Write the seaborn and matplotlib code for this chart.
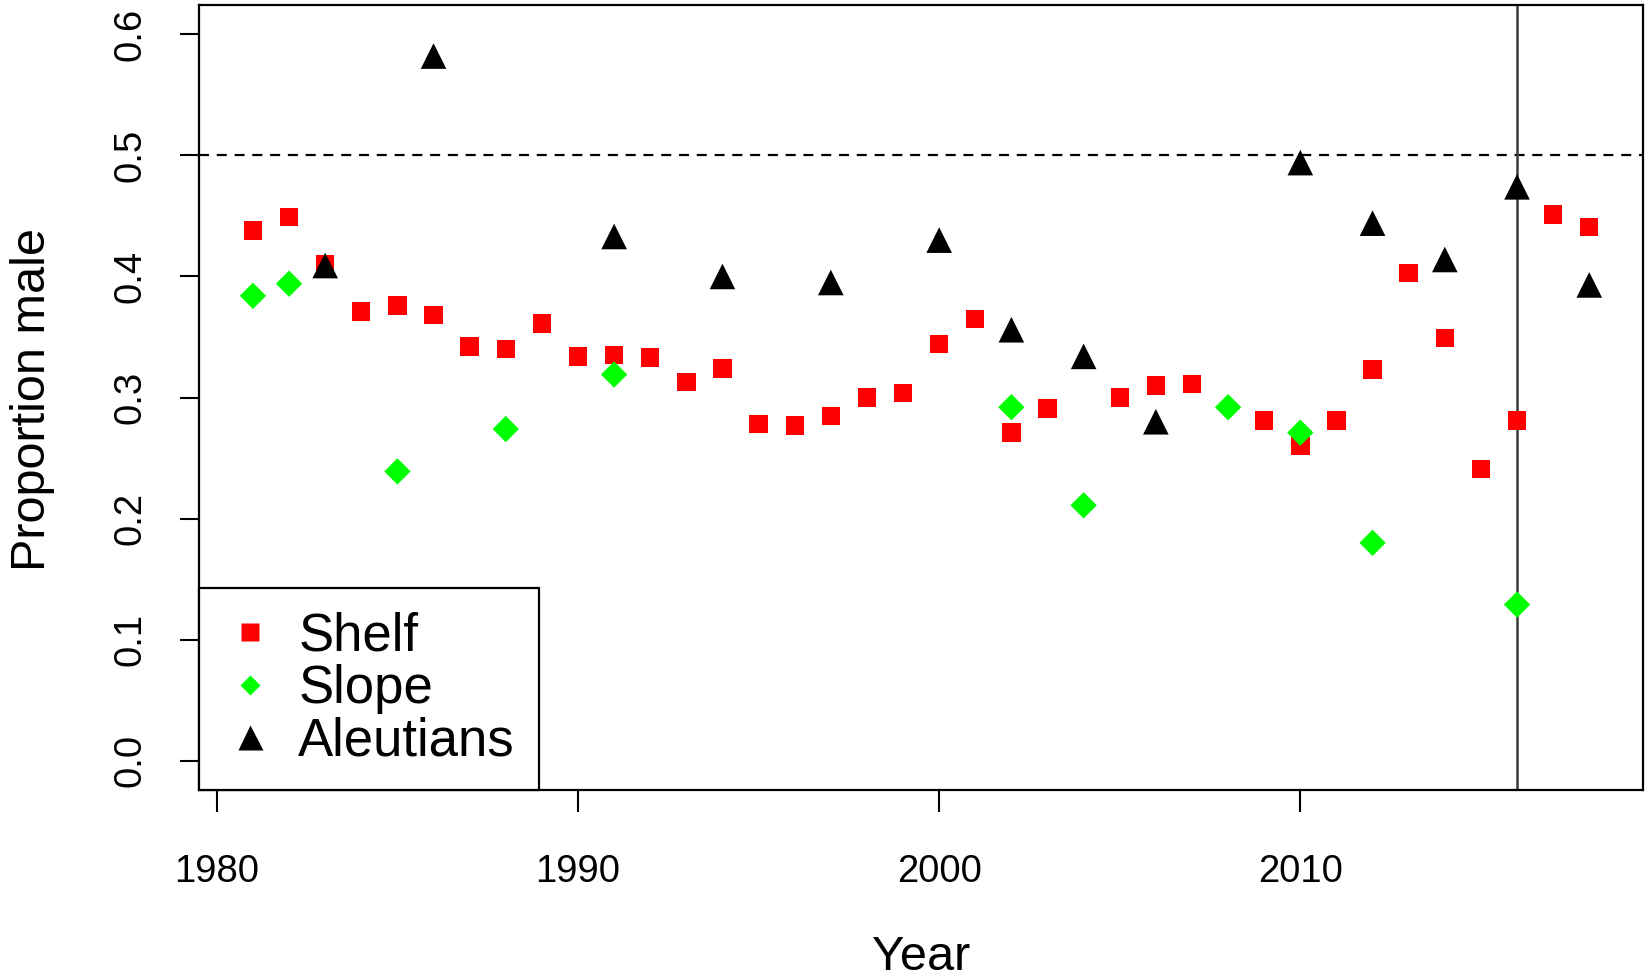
import matplotlib
matplotlib.use("Agg")
import matplotlib.pyplot as plt
from matplotlib.lines import Line2D
import seaborn as sns
import pandas as pd

# Proportion of males by survey area and year
shelf_years = [1981, 1982, 1983, 1984, 1985, 1986, 1987, 1988, 1989, 1990, 1991,
               1992, 1993, 1994, 1995, 1996, 1997, 1998, 1999, 2000, 2001, 2002,
               2003, 2005, 2006, 2007, 2009, 2010, 2011, 2012, 2013, 2014, 2015,
               2016, 2017, 2018]
shelf_values = [0.438, 0.449, 0.410, 0.371, 0.376, 0.368, 0.342, 0.340, 0.361, 0.334,
                0.335, 0.333, 0.313, 0.324, 0.278, 0.277, 0.285, 0.300, 0.304, 0.344,
                0.365, 0.271, 0.291, 0.300, 0.310, 0.311, 0.281, 0.260, 0.281, 0.323,
                0.403, 0.349, 0.241, 0.281, 0.451, 0.441]

slope_years = [1981, 1982, 1985, 1988, 1991, 2002, 2004, 2008, 2010, 2012, 2016]
slope_values = [0.384, 0.394, 0.239, 0.274, 0.319, 0.292, 0.211, 0.292, 0.271, 0.180, 0.129]

aleut_years = [1983, 1986, 1991, 1994, 1997, 2000, 2002, 2004, 2006, 2010, 2012,
               2014, 2016, 2018]
aleut_values = [0.409, 0.582, 0.433, 0.400, 0.395, 0.430, 0.356, 0.334, 0.280, 0.494,
                0.444, 0.414, 0.474, 0.393]

region_names = ["Shelf", "Slope", "Aleutians"]
region_colors = ["#ff0000", "#00ff00", "#000000"]

x_ticks = [1980, 1990, 2000, 2010]
y_ticks = [0.0, 0.1, 0.2, 0.3, 0.4, 0.5, 0.6]
ref_proportion = 0.5
ref_year = 2016

sns.set_theme(style="white")
plt.rcParams["font.family"] = ["Liberation Sans", "DejaVu Sans"]
plt.rcParams["text.color"] = "black"
plt.rcParams["axes.labelcolor"] = "black"

fig = plt.figure(figsize=(16.46, 9.8), dpi=100)
ax = fig.add_axes([0.1212, 0.194, 0.8768, 0.8007])

shelf_df = pd.DataFrame({"Year": shelf_years, "Proportion": shelf_values})
slope_df = pd.DataFrame({"Year": slope_years, "Proportion": slope_values})
aleut_df = pd.DataFrame({"Year": aleut_years, "Proportion": aleut_values})

sns.scatterplot(data=shelf_df, x="Year", y="Proportion", ax=ax, marker="s",
                s=175, color=region_colors[0], edgecolor="none", zorder=3)
sns.scatterplot(data=slope_df, x="Year", y="Proportion", ax=ax, marker="D",
                s=180, color=region_colors[1], edgecolor="none", zorder=4)
sns.scatterplot(data=aleut_df, x="Year", y="Proportion", ax=ax, marker="^",
                s=340, color=region_colors[2], edgecolor="none", zorder=5)

ax.axhline(ref_proportion, color="black", linestyle=(0, (4.5, 3.5)), linewidth=1.6, zorder=2)
ax.axvline(ref_year, color="#3a3a3a", linewidth=1.8, zorder=2)

ax.set_xlim(1979.52, 2019.48)
ax.set_ylim(-0.024, 0.624)
ax.set_xticks(x_ticks)
ax.set_xticklabels([str(t) for t in x_ticks])
ax.set_yticks(y_ticks)
ax.set_yticklabels([f"{t:.1f}" for t in y_ticks], rotation=90, va="center")

ax.tick_params(axis="both", direction="out", colors="black", labelsize=27.5,
               width=1.5, left=True, bottom=True)
ax.tick_params(axis="x", length=16, pad=30)
ax.tick_params(axis="y", length=14, pad=23)

for sp in ax.spines.values():
    sp.set_visible(True)
    sp.set_color("black")
    sp.set_linewidth(1.6)

ax.set_xlabel("Year", fontsize=35)
ax.set_ylabel("Proportion male", fontsize=35)
ax.xaxis.set_label_coords(0.5, -0.213)
ax.xaxis.label.set_va("center")
ax.yaxis.set_label_coords(-0.116, 0.498)
ax.yaxis.label.set_va("center")

handles = [
    Line2D([], [], linestyle="none", marker="s", markersize=13,
           markerfacecolor=region_colors[0], markeredgecolor="none"),
    Line2D([], [], linestyle="none", marker="D", markersize=10,
           markerfacecolor=region_colors[1], markeredgecolor="none"),
    Line2D([], [], linestyle="none", marker="^", markersize=18,
           markerfacecolor=region_colors[2], markeredgecolor="none"),
]
leg = ax.legend(handles, region_names, loc="lower left", fontsize=38,
                frameon=True, fancybox=False, borderaxespad=0, framealpha=1,
                handlelength=1.0, handletextpad=0.42, labelspacing=0.04,
                borderpad=0.45)
leg.get_frame().set_edgecolor("black")
leg.get_frame().set_linewidth(1.6)
for t in leg.get_texts():
    t.set_color("black")

fig.savefig("out.png", dpi=100, facecolor="white")
